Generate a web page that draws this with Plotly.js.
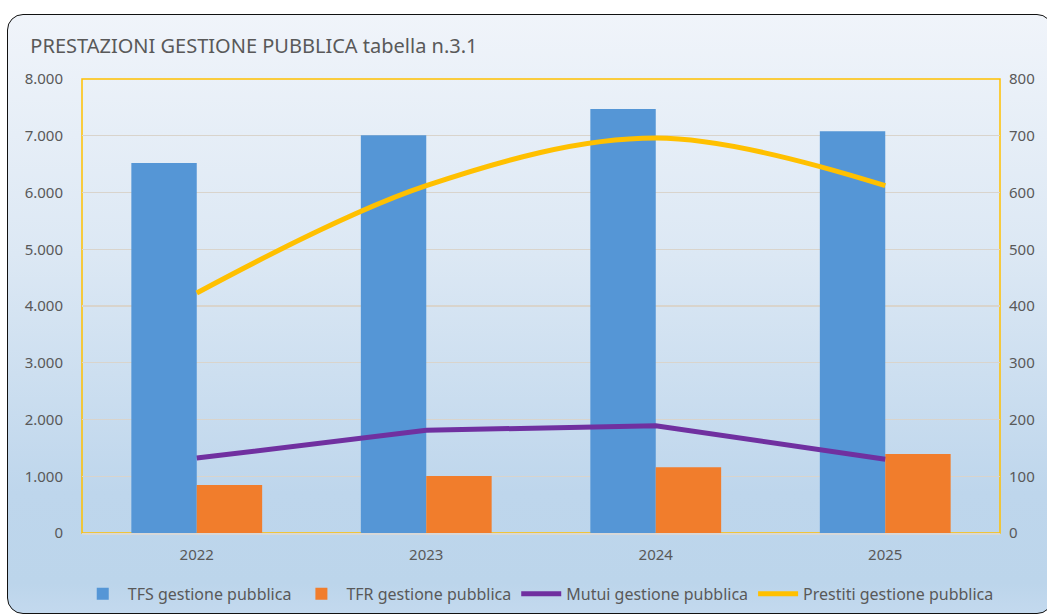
<!DOCTYPE html>
<html>
<head>
<meta charset="utf-8">
<script src="https://cdn.plot.ly/plotly-3.0.1.min.js"></script>
<style>
html,body{margin:0;padding:0;width:1047px;height:614px;overflow:hidden;background:#ffffff;}
#frame{position:absolute;left:7px;top:14px;width:1044px;height:598px;border:1.5px solid #111;border-radius:16px;
background:linear-gradient(to bottom,#f0f4fa 0%,#dce8f4 40%,#bed6ec 80%,#bcd5eb 95%,#c3d9ee 100%);overflow:hidden;}
#chart{position:absolute;left:-8.5px;top:-15.5px;width:1047px;height:614px;}
</style>
</head>
<body>
<div id="frame"><div id="chart"></div></div>
<script>
const categories = ['2022','2023','2024','2025'];
const tfs = [6520, 7010, 7470, 7080];
const tfr = [845, 1005, 1160, 1390];
const mutui = [132, 181, 189, 130];
const prestiti = [423, 612, 696, 612];
const leftTicks = [0,1000,2000,3000,4000,5000,6000,7000,8000];
const rightTicks = [0,100,200,300,400,500,600,700,800];

const font = "'Noto Sans', 'DejaVu Sans', sans-serif";
const traces = [
  {type:'bar', name:'TFS gestione pubblica', x:categories, y:tfs,
   marker:{color:'#5596d6', line:{width:0}}},
  {type:'bar', name:'TFR gestione pubblica', x:categories, y:tfr,
   marker:{color:'#f17d2c', line:{width:0}}},
  {type:'scatter', mode:'lines', name:'Mutui gestione pubblica', x:categories, y:mutui, yaxis:'y2',
   line:{color:'#7030a0', width:5}},
  {type:'scatter', mode:'lines', name:'Prestiti gestione pubblica', x:categories, y:prestiti, yaxis:'y2',
   line:{color:'#ffc000', width:5, shape:'spline', smoothing:1}}
];
const layout = {
  width:1047, height:614,
  paper_bgcolor:'rgba(0,0,0,0)', plot_bgcolor:'rgba(0,0,0,0)',
  margin:{l:82, r:47, t:79, b:81, autoexpand:false},
  separators:',.',
  font:{family:font, color:'#595959', size:15},
  title:{text:'PRESTAZIONI GESTIONE PUBBLICA tabella n.3.1', x:0.029, xanchor:'left', y:0.925, yanchor:'middle',
         font:{family:font, size:20, color:'#595959'}},
  barmode:'group', bargap:0.43, bargroupgap:0,
  xaxis:{type:'category', showgrid:false, showline:true, linecolor:'#d8d8d8', linewidth:1.5,
         ticks:'', tickfont:{size:15, color:'#595959'}, ticklabelstandoff:7},
  yaxis:{range:[0,8000], tickvals:leftTicks, tickformat:',d', showgrid:true, gridcolor:'#d9d4cc', gridwidth:1.2,
         zeroline:false, showline:false, ticks:'', tickfont:{size:15, color:'#595959'}, ticklabelstandoff:18},
  yaxis2:{range:[0,800], tickvals:rightTicks, overlaying:'y', side:'right', showgrid:false, zeroline:false,
          showline:false, ticks:'', tickfont:{size:15, color:'#595959'}, ticklabelstandoff:8},
  shapes:[{type:'rect', xref:'paper', yref:'paper', x0:0, x1:1, y0:0, y1:1, line:{color:'#ffc000', width:1.5}, layer:'below'}],
  legend:{orientation:'h', x:0.497, xanchor:'center', yref:'container', y:0.033, yanchor:'middle',
          font:{size:16, color:'#595959'}, itemwidth:40, traceorder:'normal', bgcolor:'rgba(0,0,0,0)'},
  showlegend:true
};
Plotly.newPlot('chart', traces, layout, {displayModeBar:false, staticPlot:true});
</script>
</body>
</html>
